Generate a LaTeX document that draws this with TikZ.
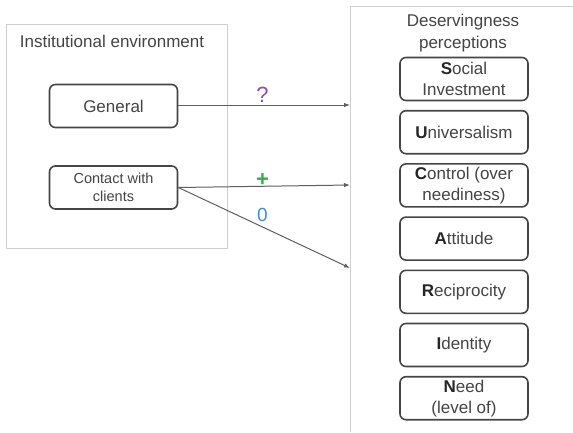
\documentclass[tikz,border=0pt]{standalone}
\usepackage{fontspec}
\setmainfont{Liberation Sans}
\usetikzlibrary{arrows.meta,positioning}

\definecolor{textgray}{HTML}{444444}
\definecolor{boxgray}{HTML}{454545}
\definecolor{panelgray}{HTML}{CFCFCF}
\definecolor{linegray}{HTML}{5E5E5E}
\definecolor{qpurple}{HTML}{8A4BC0}
\definecolor{plusgreen}{HTML}{2DB34A}
\definecolor{zeroblue}{HTML}{3A8EE0}

\newcommand{\first}[1]{\textcolor{black!85}{\textbf{#1}}}

\tikzset{
  dimbox/.style={draw=boxgray, line width=1.6pt, rounded corners=6pt,
    minimum width=128pt, minimum height=43pt, align=center,
    text=textgray, inner sep=2pt, font=\fontsize{17}{21}\selectfont},
  panel/.style={draw=panelgray, line width=0.9pt},
  title/.style={text=textgray, align=center, font=\fontsize{17}{22}\selectfont},
  link/.style={draw=linegray, line width=1pt, -{Latex[length=6pt,width=4.5pt]}},
  sign/.style={font=\fontsize{22}{22}\selectfont, inner sep=0pt, anchor=center}
}

\begin{document}
\begin{tikzpicture}[x=1pt,y=-1pt, node distance=8.6pt]
        \useasboundingbox (0,0) rectangle (573,432);

        % panels
        \draw[panel] (6,24) rectangle (227,248);
        \draw[panel] (573,6) -- (350,6) -- (350,432);
        \node[title] (inst) at (112,41) {Institutional environment};
        \node[title] (perc) at (463,33) {Deservingness\\perceptions};

        % institutional side
        \node[dimbox] (general) at (113.5,106) {General};
        \node[dimbox, font=\fontsize{14.5}{18}\selectfont] (contact) at (113.5,187.5)
                {Contact with\\clients};

        % deservingness criteria
        \node[dimbox] (social) at (464,79) {\first{S}ocial\\Investment};
        \node[dimbox] (univ) [below=of social] {\first{U}niversalism};
        \node[dimbox] (control) [below=of univ] {\first{C}ontrol (over\\neediness)};
        \node[dimbox] (attitude) [below=of control] {\first{A}ttitude};
        \node[dimbox] (recip) [below=of attitude] {\first{R}eciprocity};
        \node[dimbox] (ident) [below=of recip] {\first{I}dentity};
        \node[dimbox] (need) [below=of ident] {\first{N}eed\\(level of)};

        \coordinate (t1) at (350,105);
        \coordinate (t2) at (350,185);
        \coordinate (t3) at (350,268);

        \draw[link] (general.east |- t1) -- node[sign, text=qpurple, pos=.49, yshift=10pt] {?} (t1);
        \draw[link] (contact.east) -- node[sign, text=plusgreen, pos=.49, yshift=6pt] {\textbf{+}} (t2);
        \draw[link] (contact.east) -- node[sign, text=zeroblue, pos=.49, yshift=12pt,
                font=\fontsize{19}{19}\selectfont] {0} (t3);
\end{tikzpicture}
\end{document}
